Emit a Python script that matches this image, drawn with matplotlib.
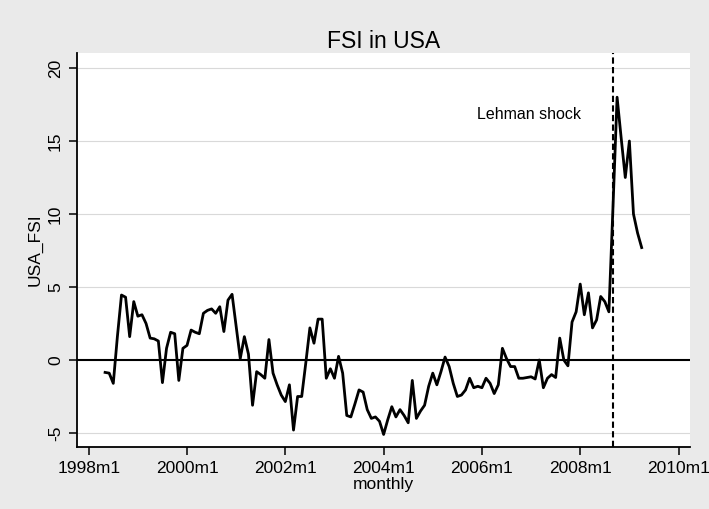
import numpy as np
import pandas as pd
import matplotlib
matplotlib.use("Agg")
import matplotlib.pyplot as plt

plt.rcParams['font.family'] = ['Liberation Sans', 'DejaVu Sans']

# Monthly financial stress index for the US, 1998m5 - 2009m4
fsi_start = '1998-05'
fsi = [
    -0.85, -0.9, -1.6, 1.6, 4.45, 4.3, 1.6, 4.0,            # 1998m5-1998m12
    3.0, 3.1, 2.5, 1.5, 1.45, 1.3, -1.55, 0.8, 1.9, 1.8, -1.4, 0.8,     # 1999
    1.0, 2.05, 1.9, 1.8, 3.2, 3.4, 3.5, 3.2, 3.65, 1.95, 4.1, 4.5,      # 2000
    2.3, 0.1, 1.6, 0.4, -3.1, -0.8, -1.0, -1.25, 1.4, -0.9, -1.7, -2.4, # 2001
    -2.85, -1.7, -4.8, -2.5, -2.5, -0.2, 2.2, 1.15, 2.8, 2.8, -1.25, -0.6,  # 2002
    -1.25, 0.25, -0.9, -3.8, -3.9, -3.0, -2.05, -2.2, -3.4, -4.0, -3.9, -4.2,  # 2003
    -5.1, -4.1, -3.2, -3.9, -3.4, -3.8, -4.3, -1.4, -4.0, -3.5, -3.1, -1.8,   # 2004
    -0.9, -1.7, -0.8, 0.2, -0.45, -1.6, -2.5, -2.4, -2.05, -1.25, -1.9, -1.8, # 2005
    -1.9, -1.25, -1.6, -2.3, -1.7, 0.8, 0.1, -0.45, -0.45, -1.25, -1.25, -1.2, # 2006
    -1.15, -1.3, 0.0, -1.9, -1.25, -1.0, -1.2, 1.5, 0.0, -0.4, 2.6, 3.3,      # 2007
    5.2, 3.1, 4.6, 2.2, 2.75, 4.35, 4.0, 3.3, 10.5, 18.0, 15.2, 12.5,         # 2008
    15.0, 10.0, 8.7, 7.7,                                                      # 2009m1-2009m4
]
lehman_month = '2008-09'
tick_years = list(range(1998, 2011, 2))
ytick_vals = [-5, 0, 5, 10, 15, 20]


def month_index(periods):
    # months counted from 1998m1, like Stata's %tm offsets
    return (periods.year - 1998) * 12 + periods.month - 1


months = pd.period_range(fsi_start, periods=len(fsi), freq='M')
x = month_index(months)
lehman_x = month_index(pd.PeriodIndex([lehman_month], freq='M'))[0]

fig = plt.figure(figsize=(7.09, 5.09), dpi=100, facecolor='#eaeaea')
ax = fig.add_axes([0.1086, 0.1218, 0.8646, 0.7741])
ax.set_facecolor('white')

for v in ytick_vals:
    if v != 0:
        ax.axhline(v, color='#d9d9d9', lw=0.8, zorder=1)
ax.axhline(0, color='black', lw=1.5, zorder=2)
ax.axvline(lehman_x, color='black', lw=1.5, linestyle=(0, (3, 1.6)), zorder=2)
ax.plot(x, fsi, color='black', lw=2.0, zorder=3)

ax.text(107.5, 16.8, 'Lehman shock', fontsize=11.5, ha='center', va='center')

ax.set_xlim(-2.86, 146.8)
ax.set_ylim(-5.96, 21.03)
ax.set_xticks([(y - 1998) * 12 for y in tick_years])
ax.set_xticklabels([f'{y}m1' for y in tick_years])
ax.set_yticks(ytick_vals)
ax.set_yticklabels([str(v) for v in ytick_vals], rotation=90, va='center')
ax.tick_params(axis='both', direction='out', length=6, width=1.1,
               labelsize=12.5, pad=4)

for side in ('top', 'right'):
    ax.spines[side].set_visible(False)
for side in ('left', 'bottom'):
    ax.spines[side].set_linewidth(1.3)

ax.set_title('FSI in USA', fontsize=16.5, pad=3)
ax.set_ylabel('USA_FSI', fontsize=12.5, labelpad=4)
ax.set_xlabel('monthly', fontsize=12.5, labelpad=1)

fig.savefig('out.png', dpi=100, facecolor=fig.get_facecolor())
